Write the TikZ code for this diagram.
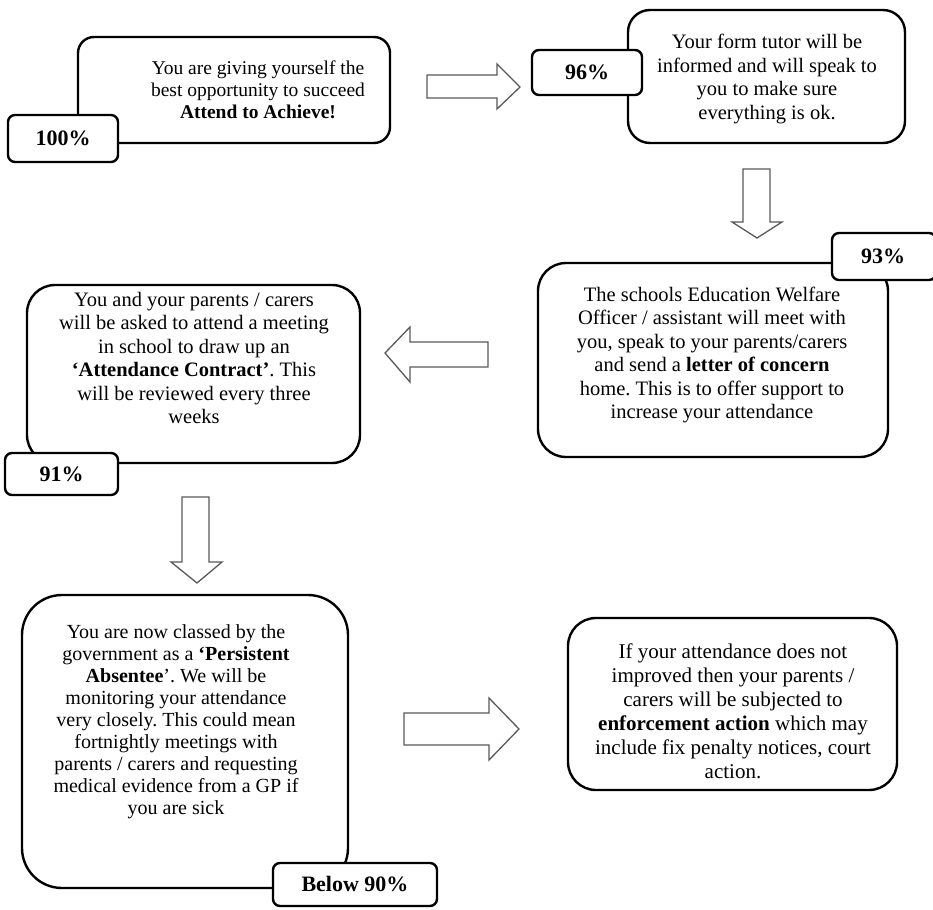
\documentclass[tikz,border=0pt]{standalone}
\usepackage{fontspec}
\setmainfont{Liberation Serif}
\frenchspacing
\begin{document}
\begin{tikzpicture}[x=1pt,y=-1pt,
  bigbox/.style={draw=black, line width=2.4pt, fill=white, inner sep=0pt},
  tag/.style={draw=black, line width=2.4pt, fill=white, rounded corners=7pt, inner sep=0pt, font=\fontsize{22}{24}\selectfont\bfseries},
  txt/.style={align=center, inner sep=0pt, font=\fontsize{20.5}{23.5}\selectfont},
  blockarrow/.style={draw=black!65, line width=1.3pt, fill=white, line join=miter}]
\useasboundingbox (0,0) rectangle (933,909);

% boxes
\node[bigbox, rounded corners=16pt, minimum width=312pt, minimum height=106pt] (b1) at (234,90) {};
\node[bigbox, rounded corners=22pt, minimum width=277pt, minimum height=133pt] (b2) at (766.5,76.5) {};
\node[bigbox, rounded corners=28pt, minimum width=350pt, minimum height=194pt] (b3) at (713,360) {};
\node[bigbox, rounded corners=28pt, minimum width=333pt, minimum height=178pt] (b4) at (193.5,374) {};
\node[bigbox, rounded corners=40pt, minimum width=326pt, minimum height=293pt] (b5) at (185,741.5) {};
\node[bigbox, rounded corners=28pt, minimum width=329pt, minimum height=172pt] (b6) at (732.5,704) {};

% texts
\node[txt, font=\fontsize{19.5}{22}\selectfont] (t1) at (258,90) {You are giving yourself the\\best opportunity to succeed\\\textbf{Attend to Achieve!}};
\node[txt] (t2) at (767,79) {Your form tutor will be\\informed and will speak to\\you to make sure\\everything is ok.};
\node[txt] (t3) at (712,355) {The schools Education Welfare\\Officer / assistant will meet with\\you, speak to your parents/carers\\and send a \textbf{letter of concern}\\home. This is to offer support to\\increase your attendance};
\node[txt] (t4) at (194,358) {You and your parents / carers\\will be asked to attend a meeting\\in school to draw up an\\\textbf{‘Attendance Contract’}. This\\will be reviewed every three\\weeks};
\node[txt, font=\fontsize{20}{22}\selectfont] (t5) at (176,722) {You are now classed by the\\government as a \textbf{‘Persistent}\\\textbf{Absentee}’. We will be\\monitoring your attendance\\very closely. This could mean\\fortnightly meetings with\\parents / carers and requesting\\medical evidence from a GP if\\you are sick};
\node[txt, font=\fontsize{21}{24}\selectfont] (t6) at (733,711) {If your attendance does not\\improved then your parents /\\carers will be subjected to\\\textbf{enforcement action} which may\\include fix penalty notices, court\\action.};

% tags
\node[tag, minimum width=110pt, minimum height=47pt] (l1) at (63,138.5) {100\%};
\node[tag, minimum width=110pt, minimum height=45pt] (l2) at (587,72.5) {96\%};
\node[tag, minimum width=104pt, minimum height=47pt] (l3) at (884,256.5) {\hspace*{-2pt}93\%};
\node[tag, minimum width=113pt, minimum height=42pt] (l4) at (61.5,474) {91\%};
\node[tag, minimum width=164pt, minimum height=43pt] (l5) at (355,884.5) {Below 90\%};

% block arrows
\draw[blockarrow] (427,75) -- (497,75) -- (497,64) -- (520,87) -- (497,109) -- (497,98) -- (427,98) -- cycle;
\draw[blockarrow] (743,169) -- (770,169) -- (770,222) -- (782,222) -- (757,238) -- (732,222) -- (743,222) -- cycle;
\draw[blockarrow] (488,342) -- (410,342) -- (410,327) -- (385,353) -- (410,382) -- (410,367) -- (488,367) -- cycle;
\draw[blockarrow] (182,497) -- (209,497) -- (209,562) -- (222,562) -- (197,583) -- (171,562) -- (182,562) -- cycle;
\draw[blockarrow] (404,713) -- (489,713) -- (489,698) -- (519,729) -- (489,760) -- (489,745) -- (404,745) -- cycle;
\end{tikzpicture}
\end{document}
